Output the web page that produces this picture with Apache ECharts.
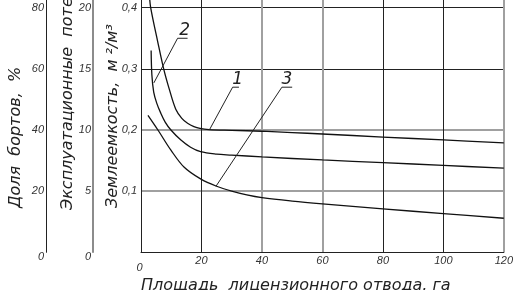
<!DOCTYPE html>
<html><head><meta charset="utf-8">
<script src="https://cdn.jsdelivr.net/npm/echarts@6/dist/echarts.min.js"></script>
<style>html,body{margin:0;padding:0;background:#fff}#c{width:516px;height:290px}</style>
</head><body><div id="c"></div>
<script>
// ---- data ----
const xTicks = [0, 20, 40, 60, 80, 100, 120];          // площадь, га
const densityTicks = [0, 0.1, 0.2, 0.3, 0.4];           // землеемкость, м2/м3
const shareTicks = [0, 20, 40, 60, 80];                 // доля бортов, %
const lossTicks = [0, 5, 10, 15, 20];                   // эксплуатационные потери, %

// curve 1
const curve1 = [[2.8, 0.42], [3.2, 0.40], [5.5, 0.345], [7.5, 0.30], [9.4, 0.266], [11.5, 0.234],
  [13.5, 0.219], [15.4, 0.211], [17.5, 0.2055], [19.5, 0.2025], [22.5, 0.2007], [30, 0.1995],
  [40, 0.198], [50, 0.1958], [60, 0.1935], [80, 0.1885], [100, 0.1837], [120, 0.179]];
// curve 2
const curve2 = [[3.35, 0.33], [3.6, 0.29], [4.2, 0.262], [5.2, 0.244], [6.5, 0.228], [8.0, 0.213],
  [9.9, 0.2], [13.2, 0.1835], [16.4, 0.1718], [19.7, 0.1645], [25, 0.1605], [30, 0.159], [40, 0.156],
  [60, 0.151], [80, 0.1467], [100, 0.1421], [120, 0.1375]];
// curve 3
const curve3 = [[2.3, 0.224], [5.6, 0.2], [9.9, 0.167], [14.3, 0.139], [19.7, 0.12], [25, 0.108],
  [30, 0.1], [35, 0.0938], [40, 0.0893], [50, 0.0837], [60, 0.0792], [80, 0.0711], [100, 0.0633], [120, 0.0557]];

// leader lines for curve numbers (point on curve, elbow, end of underline)
const leader1 = [[22.6, 0.2], [30.3, 0.27], [32.4, 0.27]];
const leader2 = [[4.25, 0.277], [12.1, 0.35], [15.4, 0.35]];
const leader3 = [[24.8, 0.108], [46.6, 0.27], [50.0, 0.27]];
const curveNames = ['1', '2', '3'];

const xTitle = 'Площадь  лицензионного отвода, га';
const yTitles = ['Доля  бортов,  %', 'Эксплуатационные  потери,  %', 'Землеемкость,  м ²/м³'];

// ---- chart ----
const topExt = 1.0315; // plot extends slightly above the last tick
const dMax = densityTicks[densityTicks.length - 1] * topExt;
const sMax = shareTicks[shareTicks.length - 1] * topExt;
const lMax = lossTicks[lossTicks.length - 1] * topExt;

const labelFont = { fontStyle: 'italic', fontFamily: 'Liberation Sans', fontSize: 11, color: '#333' };
const titleFont = 'italic 16px "DejaVu Sans"';
const DARK = '#222', GRAY = '#a0a0a0', NONE = 'rgba(0,0,0,0)';

function zeroRich(pad) { return { z: Object.assign({}, labelFont, { padding: pad }) }; }

function leaderSeries(pts, name, off) {
  return {
    type: 'line', xAxisIndex: 0, yAxisIndex: 0, silent: true, animation: false,
    symbol: 'circle', symbolSize: 0.1, showSymbol: true, itemStyle: { color: NONE },
    lineStyle: { color: '#222', width: 1 },
    data: pts.map((p, i) => i === 1 ? {
      value: p, label: {
        show: true, formatter: name, position: 'top', distance: 0, offset: off,
        fontStyle: 'italic', fontFamily: 'DejaVu Sans', fontSize: 17, color: '#222'
      }
    } : { value: p })
  };
}
function curveSeries(pts) {
  return {
    type: 'line', xAxisIndex: 0, yAxisIndex: 0, silent: true, animation: false,
    data: pts, smooth: 0.35, symbol: 'none', clip: true,
    lineStyle: { color: '#111', width: 1.3 }
  };
}

const chart = echarts.init(document.getElementById('c'), null, { renderer: 'canvas' });
chart.setOption({
  backgroundColor: '#fff',
  animation: false,
  grid: { left: 141, right: 8, top: 0, bottom: 37.7, containLabel: false },
  xAxis: [{
    type: 'value', position: 'bottom', min: xTicks[0], max: xTicks[xTicks.length - 1],
    interval: xTicks[1] - xTicks[0],
    axisLine: { show: true, lineStyle: { color: DARK, width: 1 } }, axisTick: { show: false },
    axisLabel: Object.assign({}, labelFont, {
      margin: 3, formatter: v => v === 0 ? '{z|0}' : String(v), rich: zeroRich([7, 3, 0, 0])
    }),
    splitLine: { show: true, lineStyle: { width: 1, color: [NONE, DARK, NONE, NONE, DARK, DARK, NONE] } }
  }, {
    type: 'value', position: 'top', min: xTicks[0], max: xTicks[xTicks.length - 1],
    interval: xTicks[1] - xTicks[0],
    axisLine: { show: false }, axisTick: { show: false }, axisLabel: { show: false },
    splitLine: { show: true, lineStyle: { width: 2, color: [NONE, NONE, GRAY, GRAY, NONE, NONE, GRAY] } }
  }],
  yAxis: [{
    type: 'value', position: 'left', offset: 0, min: 0, max: dMax, interval: densityTicks[1] - densityTicks[0],
    axisLine: { show: true, lineStyle: { color: DARK, width: 1 } }, axisTick: { show: false },
    axisLabel: Object.assign({}, labelFont, {
      margin: 4, showMaxLabel: false,
      formatter: v => (v === 0 || v > densityTicks[densityTicks.length - 1] + 1e-9) ? '' : v.toFixed(1).replace('.', ',')
    }),
    splitLine: { show: true, showMaxLine: false, lineStyle: { width: 1, color: [NONE, NONE, NONE, DARK, DARK, NONE] } }
  }, {
    type: 'value', position: 'left', offset: 95, min: 0, max: sMax, interval: shareTicks[1] - shareTicks[0],
    axisLine: { show: true, onZero: false, lineStyle: { color: DARK, width: 1 } }, axisTick: { show: false },
    axisLabel: Object.assign({}, labelFont, {
      margin: 2, showMaxLabel: false,
      formatter: v => v === 0 ? '{z|0}' : (v > shareTicks[shareTicks.length - 1] ? '' : String(v)),
      rich: zeroRich([9, 0, 0, 0])
    }),
    splitLine: { show: false }
  }, {
    type: 'value', position: 'left', offset: 48, min: 0, max: lMax, interval: lossTicks[1] - lossTicks[0],
    axisLine: { show: true, onZero: false, lineStyle: { color: '#666', width: 1.5 } }, axisTick: { show: false },
    axisLabel: Object.assign({}, labelFont, {
      margin: 2, showMaxLabel: false,
      formatter: v => v === 0 ? '{z|0}' : (v > lossTicks[lossTicks.length - 1] ? '' : String(v)),
      rich: zeroRich([9, 0, 0, 0])
    }),
    splitLine: { show: false }
  }, {
    type: 'value', position: 'right', offset: 0, min: 0, max: dMax, interval: densityTicks[1] - densityTicks[0],
    axisLine: { show: false }, axisTick: { show: false }, axisLabel: { show: false },
    splitLine: { show: true, showMaxLine: false, lineStyle: { width: 2, color: [NONE, GRAY, GRAY, NONE, NONE, NONE] } }
  }],
  series: [
    curveSeries(curve1), curveSeries(curve2), curveSeries(curve3),
    leaderSeries(leader1, curveNames[0], [5, 1]),
    leaderSeries(leader2, curveNames[1], [7, 1]),
    leaderSeries(leader3, curveNames[2], [5, 1])
  ],
  graphic: [
    { type: 'text', x: 15.5, y: 208, rotation: Math.PI / 2, silent: true,
      style: { text: yTitles[0], font: titleFont, fill: '#222', align: 'left', verticalAlign: 'middle' } },
    { type: 'text', x: 67.5, y: 210, rotation: Math.PI / 2, silent: true,
      style: { text: yTitles[1], font: titleFont, fill: '#222', align: 'left', verticalAlign: 'middle' } },
    { type: 'text', x: 112.5, y: 208, rotation: Math.PI / 2, silent: true,
      style: { text: yTitles[2], font: titleFont, fill: '#222', align: 'left', verticalAlign: 'middle' } },
    { type: 'text', x: 141, y: 278, silent: true,
      style: { text: xTitle, font: titleFont, fill: '#222', align: 'left', verticalAlign: 'top' } }
  ]
});
</script></body></html>
